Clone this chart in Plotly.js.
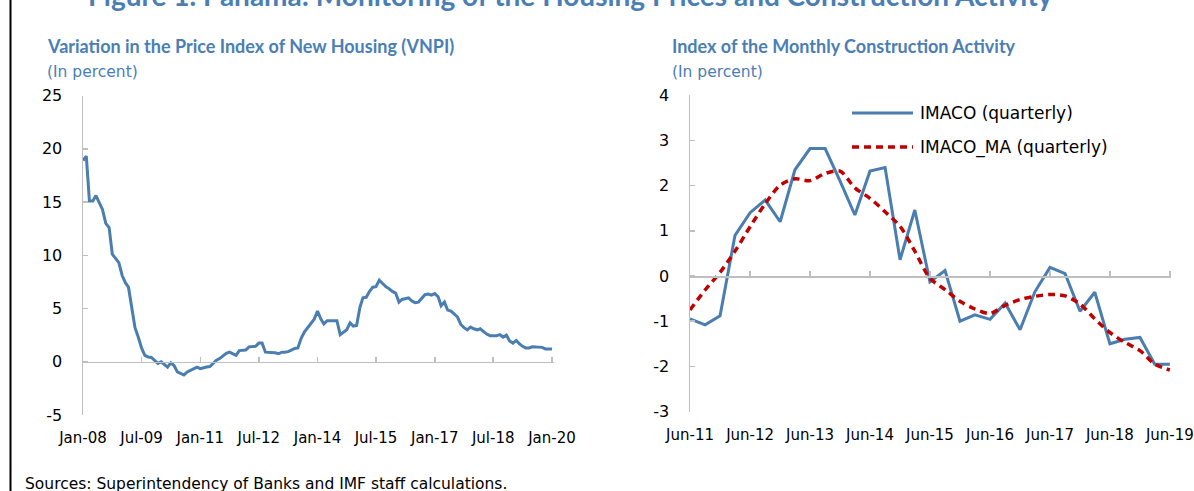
<!DOCTYPE html>
<html>
<head>
<meta charset="utf-8">
<script src="https://cdn.plot.ly/plotly-3.0.1.min.js"></script>
<style>
html,body{margin:0;padding:0;background:#fff;}
#chart{width:1194px;height:491px;}
</style>
</head>
<body>
<div id="chart"></div>
<script>
// ---------- DATA ----------
const figureTitle = "Figure 1. Panama: Monitoring of the Housing Prices and Construction Activity";
const leftTitle = "Variation in the Price Index of New Housing (VNPI)";
const rightTitle = "Index of the Monthly Construction Activity";
const unitLabel = "(In percent)";
const sourceNote = "Sources: Superintendency of Banks and IMF staff calculations.";

// VNPI monthly, Jan-08 .. Jan-20
const vnpiStart = {year: 2008, month: 1};
const vnpiValues = [
  18.9, 19.3, 15.1, 15.1, 15.6, 15.0, 14.3, 13.0, 12.6, 10.1, 9.7, 9.3,
  8.1, 7.4, 7.0, 5.0, 3.2, 2.3, 1.3, 0.6, 0.45, 0.4, 0.1, -0.15,
  0.0, -0.3, -0.5, -0.1, -0.35, -0.95, -1.1, -1.25, -0.95, -0.8, -0.7, -0.5,
  -0.65, -0.55, -0.5, -0.45, -0.15, 0.15, 0.3, 0.55, 0.8, 0.9, 0.75, 0.6,
  1.05, 1.1, 1.1, 1.4, 1.45, 1.45, 1.75, 1.75, 0.9, 0.9, 0.9, 0.85,
  0.75, 0.9, 0.9, 0.95, 1.1, 1.25, 1.3, 2.2, 2.8, 3.2, 3.5, 4.0,
  4.75, 4.0, 3.55, 3.85, 3.85, 3.85, 3.85, 2.55, 2.8, 3.0, 3.65, 3.35,
  3.4, 5.1, 6.0, 6.05, 6.6, 7.0, 7.05, 7.65, 7.35, 7.05, 6.85, 6.6,
  6.45, 5.6, 5.85, 5.9, 6.0, 5.7, 5.55, 5.6, 5.95, 6.3, 6.35, 6.25,
  6.4, 6.1, 5.25, 5.6, 4.85, 4.75, 4.5, 4.2, 3.5, 3.2, 3.0, 3.25,
  3.1, 3.0, 3.1, 2.8, 2.6, 2.45, 2.45, 2.45, 2.55, 2.3, 2.5, 1.95,
  1.75, 2.0, 1.7, 1.45, 1.3, 1.3, 1.4, 1.4, 1.4, 1.35, 1.2, 1.2,
  1.2
];
const vnpiTickVals = [-5, 0, 5, 10, 15, 20, 25];
const vnpiTickText = ["-5", "0", "5", "10", "15", "20", "25"];

// IMACO quarterly, Jun-11 .. Jun-19
const imacoStart = {year: 2011, month: 6};
const imacoNames = ["IMACO (quarterly)", "IMACO_MA (quarterly)"];
const imacoValues = [
  -0.95, -1.08, -0.88, 0.9, 1.4, 1.68, 1.2, 2.35, 2.82, 2.82, 2.1,
  1.35, 2.32, 2.4, 0.36, 1.46, -0.13, 0.12, -1.0, -0.86, -0.96, -0.6,
  -1.19, -0.35, 0.19, 0.05, -0.78, -0.36, -1.5, -1.4, -1.36, -1.95, -1.95
];
const imacoMaValues = [
  -0.75, -0.31, 0.08, 0.55, 1.09, 1.6, 2.01, 2.15, 2.11, 2.27, 2.32,
  1.95, 1.72, 1.42, 1.1, 0.55, -0.05, -0.3, -0.56, -0.73, -0.83, -0.65,
  -0.52, -0.45, -0.41, -0.44, -0.62, -0.95, -1.25, -1.47, -1.65, -1.95, -2.08
];
const imacoTickVals = [-3, -2, -1, 0, 1, 2, 3, 4];
const imacoTickText = ["-3", "-2", "-1", "0", "1", "2", "3", "4"];

// ---------- HELPERS ----------
function monthDates(start, count, stepMonths) {
  const out = [];
  for (let i = 0; i < count; i++) {
    const t = (start.month - 1) + i * stepMonths;
    const y = start.year + Math.floor(t / 12);
    const m = (t % 12) + 1;
    out.push(y + "-" + String(m).padStart(2, "0") + "-01");
  }
  return out;
}
const vnpiDates = monthDates(vnpiStart, vnpiValues.length, 1);
const imacoDates = monthDates(imacoStart, imacoValues.length, 3);

// ---------- STYLE ----------
const W = 1194, H = 491;
const px = v => v / W;
const py = v => 1 - v / H;
const BLUE = "#4A7EB0";
const TITLE_BLUE = "#4A7EB5";
const RED = "#C00000";
const AXIS = "#BFBFBF";
const TICKFONT = {family: "DejaVu Sans", size: 15, color: "#000"};

const leftY = [py(415), py(95.5)];
const rightY = [py(411.6), py(95.2)];
const leftZero = leftY[0] + (leftY[1] - leftY[0]) * (5 / 30);
const rightZero = rightY[0] + (rightY[1] - rightY[0]) * (3 / 7);

const traces = [
  {x: vnpiDates, y: vnpiValues, xaxis: "x", yaxis: "y", type: "scatter", mode: "lines",
   line: {color: BLUE, width: 3}, showlegend: false, hoverinfo: "skip"},
  {x: imacoDates, y: imacoValues, xaxis: "x2", yaxis: "y2", type: "scatter", mode: "lines",
   name: imacoNames[0], line: {color: BLUE, width: 3}, showlegend: false, hoverinfo: "skip"},
  {x: imacoDates, y: imacoMaValues, xaxis: "x2", yaxis: "y2", type: "scatter", mode: "lines",
   name: imacoNames[1], line: {color: RED, width: 3.5, dash: "7px,5px", shape: "spline", smoothing: 0.8},
   showlegend: false, hoverinfo: "skip"},
  // empty traces so the zero-crossing axes get drawn
  {x: [], y: [], xaxis: "x3", yaxis: "y", type: "scatter", mode: "lines", showlegend: false, hoverinfo: "skip"},
  {x: [], y: [], xaxis: "x4", yaxis: "y2", type: "scatter", mode: "lines", showlegend: false, hoverinfo: "skip"}
];

const labelAxis = (domain, anchor, range, tick0, dtick) => ({
  domain: domain, anchor: anchor, type: "date", range: range, tick0: tick0, dtick: dtick,
  tickformat: "%b-%y", showline: false, ticks: "", showgrid: false, zeroline: false,
  tickfont: TICKFONT, ticklabelstandoff: 12, fixedrange: true
});
const zeroAxis = (over, pos, range, tick0, dtick) => ({
  overlaying: over, anchor: "free", position: pos, type: "date", range: range,
  tick0: tick0, dtick: dtick, showline: true, linecolor: AXIS, linewidth: 1.5,
  ticks: "inside", ticklen: 5, tickwidth: 1.5, tickcolor: AXIS,
  showticklabels: false, showgrid: false, zeroline: false, fixedrange: true
});
const valueAxis = (domain, anchor, range, vals, text) => ({
  domain: domain, anchor: anchor, range: range, tickmode: "array", tickvals: vals, ticktext: text,
  showline: true, linecolor: AXIS, linewidth: 1.5, ticks: "inside", ticklen: 5, tickwidth: 1.5,
  tickcolor: AXIS, showgrid: false, zeroline: false, tickfont: {family: "DejaVu Sans", size: 16, color: "#000"},
  ticklabelstandoff: 16, fixedrange: true
});

const leftRange = ["2008-01-01", "2020-01-20"];
const rightRange = ["2011-06-01", "2019-06-08"];

const ann = (text, x, y, size, color, bold, family, xanchor) => ({
  text: bold ? "<b>" + text + "</b>" : text, xref: "paper", yref: "paper",
  x: x, y: y, xanchor: xanchor || "left", yanchor: "middle", showarrow: false,
  font: {family: family, size: size, color: color}
});

const layout = {
  width: W, height: H, margin: {l: 0, r: 0, t: 0, b: 0},
  paper_bgcolor: "#fff", plot_bgcolor: "rgba(0,0,0,0)", showlegend: false,
  xaxis: labelAxis([px(83), px(554)], "y", leftRange, "2008-01-01", "M18"),
  xaxis3: zeroAxis("x", leftZero, leftRange, "2008-01-01", "M18"),
  yaxis: valueAxis(leftY, "x", [-5, 25], vnpiTickVals, vnpiTickText),
  xaxis2: labelAxis([px(690), px(1171)], "y2", rightRange, "2011-06-01", "M12"),
  xaxis4: zeroAxis("x2", rightZero, rightRange, "2011-06-01", "M12"),
  yaxis2: valueAxis(rightY, "x2", [-3, 4], imacoTickVals, imacoTickText),
  shapes: [
    {type: "line", xref: "paper", yref: "paper", x0: px(10.5), x1: px(10.5), y0: 0, y1: 1,
     line: {color: "#000", width: 2}},
    {type: "line", xref: "paper", yref: "paper", x0: px(852), x1: px(913), y0: py(113), y1: py(113),
     line: {color: BLUE, width: 3}},
    {type: "line", xref: "paper", yref: "paper", x0: px(852), x1: px(913), y0: py(147), y1: py(147),
     line: {color: RED, width: 3.5, dash: "7px,5px"}}
  ],
  annotations: [
    ann(figureTitle, px(570), py(-5), 28, TITLE_BLUE, true, "Lato", "center"),
    ann(leftTitle, px(45), py(46), 18, TITLE_BLUE, true, "Lato"),
    ann(unitLabel, px(45), py(72), 15.5, TITLE_BLUE, false, "DejaVu Sans"),
    ann(rightTitle, px(670), py(46), 18, TITLE_BLUE, true, "Lato"),
    ann(unitLabel, px(670), py(72), 15.5, TITLE_BLUE, false, "DejaVu Sans"),
    ann(imacoNames[0], px(918), py(113), 17, "#000", false, "DejaVu Sans"),
    ann(imacoNames[1], px(918), py(147), 17, "#000", false, "DejaVu Sans"),
    ann(sourceNote, px(23), py(484), 15.5, "#000", false, "DejaVu Sans")
  ]
};

Plotly.newPlot("chart", traces, layout, {displayModeBar: false, staticPlot: true});
</script>
</body>
</html>
